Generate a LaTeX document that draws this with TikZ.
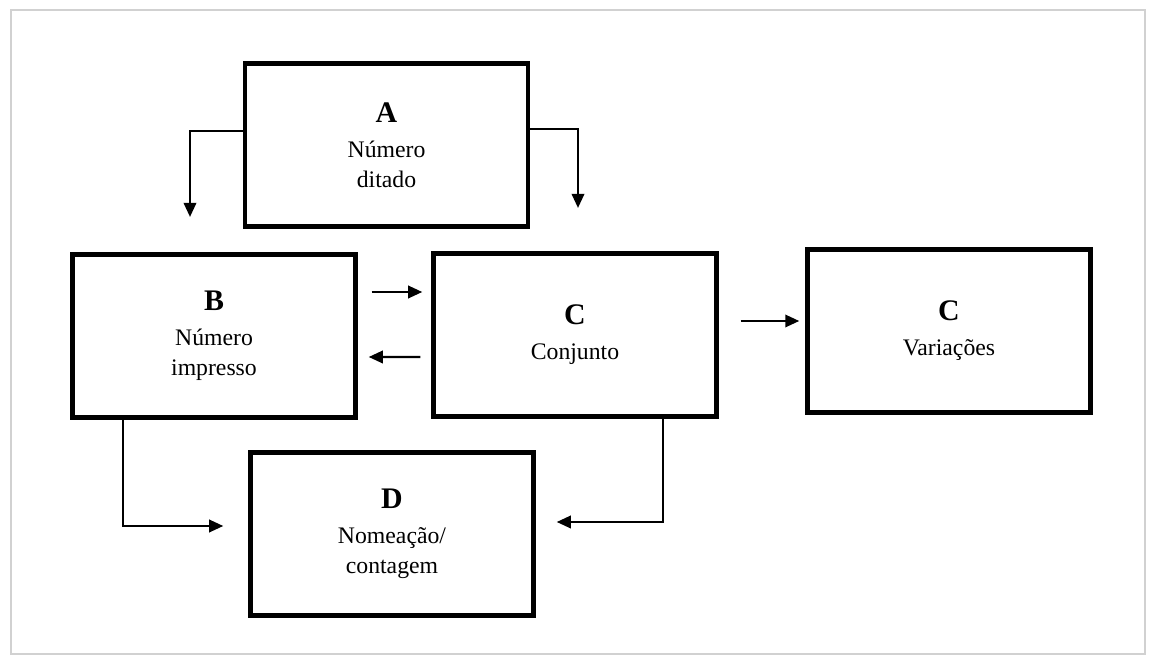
\documentclass[tikz,border=0pt]{standalone}
\usepackage{fontspec}
\setmainfont{Liberation Serif}
\usetikzlibrary{arrows.meta}
\definecolor{framegray}{rgb}{0.82, 0.82, 0.82}
\newcommand{\boxletter}[1]{{\fontsize{17}{19}\selectfont\textbf{#1}}}

\begin{document}
\begin{tikzpicture}[scale=1.0, >={Triangle[length=8pt,width=7pt]},
    blockbox/.style={draw, line width=2.5pt, minimum width=5.66cm, minimum height=3.26cm, align=center, font=\fontsize{13.5}{17}\selectfont},
    link/.style={->, line width=1.4pt}]
        \useasboundingbox (0, 0) rectangle (23, 13.14);
        \draw [framegray, line width=1.5pt] (0.22, 0.06) rectangle (22.9, 12.94);

        \node [blockbox] (numdit) at (7.73, 10.24) {\boxletter{A}\\[3pt] Número\\ ditado};
        \node [blockbox] (numimp) at (4.28, 6.42) {\boxletter{B}\\[3pt] Número\\ impresso};
        \node [blockbox] (conj) at (11.5, 6.44) {\boxletter{C}\\[3pt] Conjunto};
        \node [blockbox] (varia) at (18.98, 6.52) {\boxletter{C}\\[3pt] Variações};
        \node [blockbox] (nomea) at (7.84, 2.46) {\boxletter{D}\\[3pt] Nomeação/\\ contagem};

        \coordinate (aleft) at (3.8, 8.8);
        \coordinate (aright) at (11.56, 8.98);

        \draw [link] ([yshift=0.28cm]numdit.west) -| (aleft);
        \draw [link] ([yshift=0.32cm]numdit.east) -| (aright);
        \draw [link] ([xshift=0.28cm, yshift=0.88cm]numimp.east) -- ([xshift=-0.18cm, yshift=0.86cm]conj.west);
        \draw [link] ([xshift=-0.22cm, yshift=-0.44cm]conj.west) -- ([xshift=0.22cm, yshift=-0.42cm]numimp.east);
        \draw [link] ([xshift=0.44cm, yshift=0.28cm]conj.east) -- ([xshift=-0.12cm, yshift=0.20cm]varia.west);
        \draw [link] ([xshift=-1.82cm]numimp.south) |- ([xshift=-0.5cm, yshift=0.16cm]nomea.west);
        \draw [link] ([xshift=1.76cm]conj.south) |- ([xshift=0.42cm, yshift=0.24cm]nomea.east);
    \end{tikzpicture}
\end{document}
